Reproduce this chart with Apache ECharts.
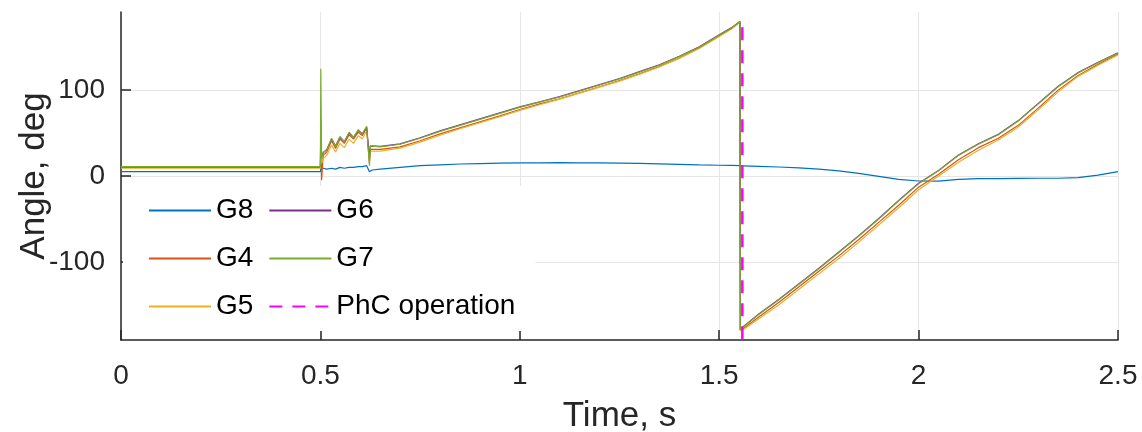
<!DOCTYPE html>
<html>
<head>
<meta charset="utf-8">
<script src="https://cdn.jsdelivr.net/npm/echarts@6/dist/echarts.min.js"></script>
<style>
html,body{margin:0;padding:0;background:#fff;}
#chart{width:1142px;height:432px;}
</style>
</head>
<body>
<div id="chart"></div>
<script>
// ---- data ----
const time = [0, 0.5, 0.501, 0.503, 0.507, 0.516, 0.528, 0.538, 0.549, 0.56,
  0.572, 0.583, 0.595, 0.605, 0.616, 0.621, 0.623, 0.625, 0.63, 0.65,
  0.7, 0.75, 0.8, 0.85, 0.9, 0.95, 1.0, 1.05, 1.1, 1.15,
  1.2, 1.25, 1.3, 1.35, 1.4, 1.45, 1.5, 1.53, 1.552, 1.553,
  1.56, 1.6, 1.65, 1.7, 1.75, 1.8, 1.85, 1.9, 1.95, 2.0,
  2.05, 2.1, 2.15, 2.2, 2.25, 2.3, 2.35, 2.4, 2.45, 2.5];

const g8 = [5, 5, 9, 7, 9, 8, 9, 8, 10, 9,
  10, 10, 11, 11, 12, 12, 5, 6, 7, 8,
  10, 12, 13, 14, 14.5, 15, 15.2, 15.4, 15.5, 15.4,
  15.2, 15, 14.6, 14.1, 13.6, 13, 12.5, 12.3, 12, 12,
  11.9, 11.3, 10.5, 9.5, 8, 6, 3, -0.5, -4, -5.8,
  -6, -4, -3, -3, -2.7, -2.6, -2.6, -2, 1, 5];

const g4 = [10, 10, 65, -5, 24, 28, 41, 32, 43, 38,
  48, 43, 51, 47, 56, 55, 15, 31, 31, 31,
  34, 41, 49, 56, 63, 70, 77.5, 84, 90, 97,
  104, 111, 119, 127.5, 137.5, 149, 163, 171.5, 179.5, -180,
  -178, -164, -147, -129, -111, -93, -74, -54, -34, -13,
  2, 19, 33, 44, 59, 79, 100, 117, 130, 142];

const g5 = [9, 9, 35, 15, 20, 24, 36, 28, 38, 33,
  43, 38, 47, 43, 53, 52, 18, 29, 29, 29,
  32.5, 39.5, 47.5, 55, 62, 69, 76.5, 83, 89.5, 96.5,
  103.5, 110.5, 118.5, 127, 137, 148.5, 162.5, 171, 179, -180,
  -179, -166, -150, -132, -114, -96, -77, -57, -37, -16,
  0, 16, 30, 42, 57, 77, 98, 116, 129, 141];

const g6 = [11, 11, 45, 22, 27, 31, 43, 35, 45, 40,
  50, 45, 53, 49, 57, 56, 20, 35, 34.5, 34.5,
  37.5, 44.5, 52.5, 59.5, 66.5, 73.5, 80.5, 86.5, 92.5, 99.5,
  106.5, 113.5, 121.5, 129.5, 139.5, 150.5, 164.5, 172.5, 180, -179,
  -175.5, -160.5, -143.5, -125.5, -107.5, -88.5, -69.5, -49.5, -28.5, -8.5,
  6.5, 24.5, 37.5, 48.5, 64.5, 84.5, 104.5, 120.5, 132.5, 143.5];

const g7 = [11, 11, 125, 20, 28, 30, 44, 34, 46, 40,
  51, 45, 54, 49, 58, 57, 12, 35, 34, 34,
  37, 44, 52, 59, 66, 73, 80, 86, 92, 99,
  106, 113, 121, 129, 139, 150, 164, 172, 180, -179,
  -176, -161, -144, -126, -108, -89, -70, -50, -29, -9,
  6, 24, 37, 48, 64, 84, 104, 120, 132, 143];

const phcTime = [1.558, 1.558];
const phcAngle = [-190, 180];

const xTicks = [0, 0.5, 1, 1.5, 2, 2.5];
const yTicks = [-100, 0, 100];

const seriesNames = ['G8', 'G4', 'G5', 'G6', 'G7'];
const seriesValues = [g8, g4, g5, g6, g7];
const seriesColors = ['#0072BD', '#D95319', '#EDB120', '#7E2F8E', '#77AC30'];

// ---- chart ----
const FONT = 'Liberation Sans, Arial, Helvetica, sans-serif';
const TXT = '#262626';
const zip = (xs, ys) => xs.map((x, i) => [x, ys[i]]);

const series = seriesNames.map((n, k) => ({
  name: n,
  type: 'line',
  data: zip(time, seriesValues[k]),
  showSymbol: false,
  symbol: 'none',
  lineStyle: { color: seriesColors[k], width: 1.2 },
  itemStyle: { color: seriesColors[k] },
  z: 2 + k
}));
series.push({
  name: 'PhC operation',
  type: 'line',
  data: zip(phcTime, phcAngle),
  showSymbol: false,
  symbol: 'none',
  lineStyle: { color: '#FF00FF', width: 2.5, type: [13, 10] },
  itemStyle: { color: '#FF00FF' },
  z: 10
});

const chart = echarts.init(document.getElementById('chart'), null, { renderer: 'canvas' });
chart.setOption({
  animation: false,
  backgroundColor: '#fff',
  grid: { left: 121, right: 24, top: 12, bottom: 92, containLabel: false, outerBoundsMode: 'none' },
  xAxis: {
    type: 'value', min: xTicks[0], max: xTicks[xTicks.length - 1], interval: 0.5,
    name: 'Time, s', nameLocation: 'middle', nameGap: 59, nameMoveOverlap: false,
    nameTextStyle: { fontFamily: FONT, fontSize: 35, color: TXT },
    axisLine: { show: true, onZero: false, lineStyle: { color: TXT, width: 1.5 } },
    axisTick: { show: true, inside: true, length: 10, lineStyle: { color: TXT, width: 1.5 } },
    axisLabel: { fontFamily: FONT, fontSize: 28, color: TXT, margin: 22 },
    splitLine: { show: true, lineStyle: { color: '#e6e6e6', width: 1 } }
  },
  yAxis: {
    type: 'value', min: -191, max: 191,
    name: 'Angle, deg', nameLocation: 'middle', nameGap: 69, nameMoveOverlap: false,
    nameTextStyle: { fontFamily: FONT, fontSize: 35, color: TXT },
    axisLine: { show: true, onZero: false, lineStyle: { color: TXT, width: 1.5 } },
    axisTick: { show: true, inside: true, length: 10, customValues: yTicks, lineStyle: { color: TXT, width: 1.5 } },
    axisLabel: { fontFamily: FONT, fontSize: 28, color: TXT, margin: 16, customValues: yTicks },
    splitLine: { show: true, lineStyle: { color: '#e6e6e6', width: 1 } }
  },
  legend: {
    orient: 'vertical',
    left: 123, top: 186,
    height: 140,
    padding: [8, 20, 8, 25],
    itemGap: 15,
    itemWidth: 62, itemHeight: 14,
    backgroundColor: '#ffffff',
    borderWidth: 0,
    itemStyle: { opacity: 0 },
    data: ['G8', 'G4', 'G5', 'G6', 'G7', 'PhC operation'],
    textStyle: { fontFamily: FONT, fontSize: 28, color: '#000', lineHeight: 33 }
  },
  series: series
});
</script>
</body>
</html>
